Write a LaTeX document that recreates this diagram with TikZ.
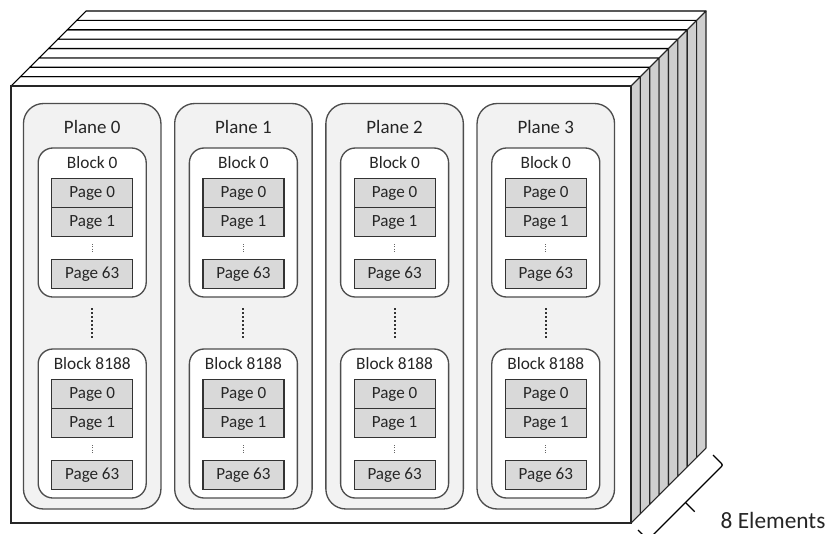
\documentclass[tikz,border=0pt]{standalone}
\usepackage{fontspec}
\setmainfont{Carlito}
\usepackage{tikz}
\usetikzlibrary{positioning}
\definecolor{sidegray}{HTML}{CFCFCF}
\definecolor{planegray}{HTML}{F2F2F2}
\definecolor{pagegray}{HTML}{D9D9D9}
\definecolor{linegray}{HTML}{4D4D4D}
\definecolor{textgray}{HTML}{262626}

\begin{document}
\begin{tikzpicture}[
    x=0.75pt, y=-0.75pt,
    topface/.style={draw=black, fill=white, line width=0.8pt, line join=round},
    sideface/.style={draw=black!85, fill=sidegray, line width=0.8pt, line join=round},
    front/.style={draw=black!85, fill=white, line width=0.8pt},
    plane/.style={draw=linegray, fill=planegray, rounded corners=15pt, line width=1pt,
        minimum width=103.1pt, minimum height=304.1pt, inner sep=0pt, outer sep=0pt},
    block/.style={draw=linegray, fill=white, rounded corners=11pt, line width=1pt,
        minimum width=81pt, minimum height=111.75pt, inner sep=0pt, outer sep=0pt},
    page/.style={draw=black!80, fill=pagegray, line width=0.9pt, text=textgray,
        minimum width=60.75pt, minimum height=21.75pt, inner sep=0pt, outer sep=0pt,
        font=\fontsize{12.8}{14}\selectfont},
    planelabel/.style={text=textgray, font=\fontsize{14.2}{16}\selectfont},
    blocklabel/.style={text=textgray, font=\fontsize{13}{15}\selectfont},
    pagedots/.style={draw=black!60, line width=0.9pt, dash pattern=on 0.8pt off 1pt},
    blockdots/.style={draw=black!80, line width=1.5pt, dash pattern=on 1.4pt off 1.6pt},
    bracket/.style={draw=black, line width=1pt, rounded corners=1.5pt}
]
\useasboundingbox (0,0) rectangle (828,533);

\coordinate (ftl) at (11,86);
\coordinate (ftr) at (631,86);
\coordinate (fbr) at (631,523);

\foreach \k in {1,...,8} {
    \pgfmathsetmacro\d{9.375*\k}
    \pgfmathsetmacro\e{9.375*(\k-1)}
    \filldraw[topface] ([shift={(\e,-\e)}]ftl) -- ([shift={(\d,-\d)}]ftl)
        -- ([shift={(\d,-\d)}]ftr) -- ([shift={(\e,-\e)}]ftr) -- cycle;
    \filldraw[sideface] ([shift={(\e,-\e)}]ftr) -- ([shift={(\d,-\d)}]ftr)
        -- ([shift={(\d,-\d)}]fbr) -- ([shift={(\e,-\e)}]fbr) -- cycle;
}
\filldraw[front] (ftl) rectangle (fbr);

\foreach \i in {0,...,3} {
    \pgfmathsetmacro\cx{92.2+151.2*\i}
    \node[plane] (pl\i) at (\cx,306.25) {};
    \node[planelabel] at ([yshift=-17.4pt]pl\i.north) {Plane \i};
    \foreach \b/\y/\n in {a/222.5/0, b/423.5/8188} {
        \node[block] (bk\i\b) at (\cx,\y) {};
        \node[blocklabel] at ([yshift=-11.25pt]bk\i\b.north) {Block \n};
        \node[page, below=22.9pt of bk\i\b.north] (p\i\b0) {Page 0};
        \node[page, below=0pt of p\i\b0] (p\i\b1) {Page 1};
        \node[page, above=6.4pt of bk\i\b.south] (p\i\b63) {Page 63};
        \draw[pagedots] ([yshift=-5.6pt]p\i\b1.south) -- ([yshift=5.6pt]p\i\b63.north);
    }
    \draw[blockdots] ([yshift=-8.4pt]bk\i a.south) -- ([yshift=8.4pt]bk\i b.north);
}

\coordinate (br1) at (638,530);
\coordinate (br2) at (648,540);
\coordinate (br3) at (723,465);
\coordinate (br4) at (713,455);
\coordinate (brmid) at (685.5,502.5);
\coordinate (brtip) at (694.7,511.7);
\draw[bracket] (br1) -- (br2) -- (br3) -- (br4);
\draw[bracket] (brmid) -- (brtip);
\node[text=textgray, font=\fontsize{17.5}{20}\selectfont, anchor=west] (elems) at (716,520) {8 Elements};
\end{tikzpicture}
\end{document}
